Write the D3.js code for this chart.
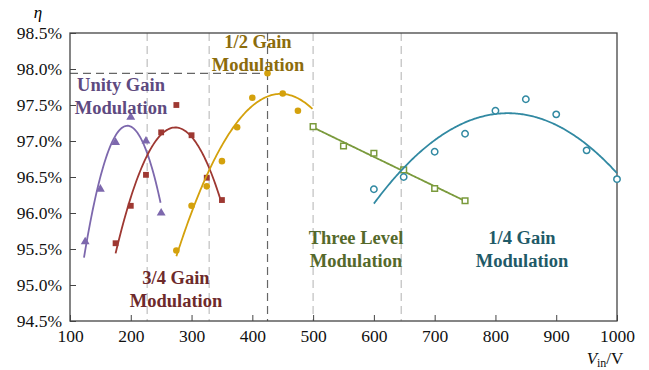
<!DOCTYPE html>
<html>
<head>
<meta charset="utf-8">
<script src="https://cdn.jsdelivr.net/npm/d3@7"></script>
<style>
  body { margin: 0; background: #fff; }
  text { font-family: "Liberation Serif", "Times New Roman", serif; }
</style>
</head>
<body>
<script>
var w = 649;
var h = 370;
var margin = {top: 33, right: 32, bottom: 49, left: 70};

// efficiency data (input voltage, efficiency %)
var unityV = [125, 150, 175, 200, 225, 250];
var unityEta = [95.6, 96.33, 96.98, 97.33, 97.0, 96.0];
var q34V = [175, 200, 225, 250, 275, 300, 325, 350];
var q34Eta = [95.58, 96.1, 96.53, 97.12, 97.5, 97.08, 96.49, 96.18];
var halfV = [275, 300, 325, 350, 375, 400, 425, 450, 475];
var halfEta = [95.48, 96.1, 96.37, 96.72, 97.19, 97.6, 97.94, 97.66, 97.42];
var threeV = [500, 550, 600, 649, 700, 750];
var threeEta = [97.2, 96.93, 96.83, 96.6, 96.34, 96.17];
var quarterV = [600, 649, 700, 750, 800, 850, 900, 950, 1000];
var quarterEta = [96.33, 96.5, 96.85, 97.1, 97.42, 97.58, 97.37, 96.87, 96.47];

var xTicks = [100, 200, 300, 400, 500, 600, 700, 800, 900, 1000];
var yTicks = [94.5, 95.0, 95.5, 96.0, 96.5, 97.0, 97.5, 98.0, 98.5];
var boundaries = [227, 329, 500, 645];
var peakV = 425;
var peakEta = 97.94;

var series = [
    {v: unityV, eta: unityEta, color: "#7d68ad", shape: d3.symbolTriangle, fill: true, deg: 2, from: 123, to: 250,
     label: ["Unity Gain", "Modulation"], lx: 121, ly: 91, lc: "#5e4a80"},
    {v: q34V, eta: q34Eta, color: "#9e3832", shape: d3.symbolSquare, fill: true, deg: 2, from: 175, to: 350,
     label: ["3/4 Gain", "Modulation"], lx: 176, ly: 284, lc: "#6e2a2b"},
    {v: halfV, eta: halfEta, color: "#d4a10c", shape: d3.symbolCircle, fill: true, deg: 2, from: 275, to: 500,
     label: ["1/2 Gain", "Modulation"], lx: 258, ly: 48, lc: "#8c6c0c"},
    {v: threeV, eta: threeEta, color: "#7a9a3c", shape: d3.symbolSquare, fill: false, deg: 1, from: 500, to: 750,
     label: ["Three Level", "Modulation"], lx: 356, ly: 244, lc: "#55692b"},
    {v: quarterV, eta: quarterEta, color: "#3189a2", shape: d3.symbolCircle, fill: false, deg: 2, from: 600, to: 1000,
     label: ["1/4 Gain", "Modulation"], lx: 522, ly: 244, lc: "#1f5a68"}
];

// least squares polynomial fit
function polyFit(xs, ys, deg) {
    var n = deg + 1;
    var A = [], b = [];
    for (var i = 0; i < n; i++) {
        A.push(new Array(n).fill(0));
        b.push(0);
    }
    xs.forEach((x, k) => {
        var t = (x - 500) / 100;
        for (var i = 0; i < n; i++) {
            for (var j = 0; j < n; j++) A[i][j] += Math.pow(t, i + j);
            b[i] += ys[k] * Math.pow(t, i);
        }
    });
    for (var i = 0; i < n; i++) {
        for (var r = i + 1; r < n; r++) {
            var f = A[r][i] / A[i][i];
            for (var c = i; c < n; c++) A[r][c] -= f * A[i][c];
            b[r] -= f * b[i];
        }
    }
    var coef = new Array(n).fill(0);
    for (var i = n - 1; i >= 0; i--) {
        var s = b[i];
        for (var c = i + 1; c < n; c++) s -= A[i][c] * coef[c];
        coef[i] = s / A[i][i];
    }
    return x => coef.reduce((acc, c, i) => acc + c * Math.pow((x - 500) / 100, i), 0);
}

var xScale = d3.scaleLinear().domain([100, 1000]).range([margin.left, w - margin.right]);
var yScale = d3.scaleLinear().domain([94.5, 98.5]).range([h - margin.bottom, margin.top]);

var svg = d3.select("body").append("svg")
    .attr("width", w)
    .attr("height", h);

// boundary lines
svg.selectAll("line.bound")
    .data(boundaries)
    .enter()
    .append("line")
    .attr("x1", d => xScale(d))
    .attr("x2", d => xScale(d))
    .attr("y1", yScale(98.5))
    .attr("y2", yScale(94.5))
    .attr("stroke", "#c4c4c4")
    .attr("stroke-width", 1.3)
    .attr("stroke-dasharray", "8,5");

svg.append("line")
    .attr("x1", xScale(peakV)).attr("x2", xScale(peakV))
    .attr("y1", yScale(98.5)).attr("y2", yScale(94.5))
    .attr("stroke", "#666")
    .attr("stroke-width", 1.2)
    .attr("stroke-dasharray", "8,5");

svg.append("line")
    .attr("x1", xScale(100)).attr("x2", xScale(peakV))
    .attr("y1", yScale(peakEta)).attr("y2", yScale(peakEta))
    .attr("stroke", "#666")
    .attr("stroke-width", 1.2)
    .attr("stroke-dasharray", "8,5");

// axes, ticks inward
var xAxis = d3.axisBottom(xScale).tickValues(xTicks).tickSizeInner(-6).tickSizeOuter(0)
    .tickPadding(9).tickFormat(d3.format("d"));
var yAxis = d3.axisLeft(yScale).tickValues(yTicks).tickSizeInner(-6).tickSizeOuter(0)
    .tickPadding(8).tickFormat(d => d.toFixed(1) + "%");

var gx = svg.append("g").attr("transform", "translate(0," + (h - margin.bottom) + ")").call(xAxis);
var gy = svg.append("g").attr("transform", "translate(" + margin.left + ",0)").call(yAxis);
[gx, gy].forEach(g => {
    g.select(".domain").remove();
    g.selectAll("line").attr("stroke", "#444");
    g.selectAll("text").attr("font-size", 17.5).attr("fill", "#111")
        .style("font-family", "'Liberation Serif', serif");
});

svg.append("rect")
    .attr("x", xScale(100)).attr("y", yScale(98.5))
    .attr("width", xScale(1000) - xScale(100))
    .attr("height", yScale(94.5) - yScale(98.5))
    .attr("fill", "none")
    .attr("stroke", "#444")
    .attr("stroke-width", 1.3);

// fitted curves and markers
var line = d3.line().x(d => xScale(d[0])).y(d => yScale(d[1]));

series.forEach(s => {
    var fit = polyFit(s.v, s.eta, s.deg);
    var pts = d3.range(s.from, s.to + 0.1, 2).map(x => [x, fit(x)]);
    svg.append("path")
        .attr("d", line(pts))
        .attr("fill", "none")
        .attr("stroke", s.color)
        .attr("stroke-width", 1.8);

    svg.selectAll(null)
        .data(s.v.map((v, i) => [v, s.eta[i]]))
        .enter()
        .append("path")
        .attr("transform", d => "translate(" + xScale(d[0]) + "," + yScale(d[1]) + ")")
        .attr("d", d3.symbol().type(s.shape).size(s.fill ? 34 : 32))
        .attr("fill", s.fill ? s.color : "#fff")
        .attr("stroke", s.color)
        .attr("stroke-width", s.fill ? 0 : 1.5);

    var t = svg.append("text")
        .attr("x", s.lx)
        .attr("y", s.ly)
        .attr("text-anchor", "middle")
        .attr("font-size", 18.5)
        .attr("font-weight", "bold")
        .attr("fill", s.lc);
    t.append("tspan").attr("x", s.lx).text(s.label[0]);
    t.append("tspan").attr("x", s.lx).attr("dy", 23).text(s.label[1]);
});

// axis titles
svg.append("text")
    .attr("x", 38).attr("y", 18)
    .attr("text-anchor", "middle")
    .attr("font-size", 17)
    .attr("font-style", "italic")
    .text("η");

var vt = svg.append("text")
    .attr("x", 605).attr("y", 364)
    .attr("text-anchor", "middle")
    .attr("font-size", 17)
    .attr("fill", "#111");
vt.append("tspan").attr("font-style", "italic").text("V");
vt.append("tspan").attr("font-size", 12).attr("dy", 3).text("in");
vt.append("tspan").attr("dy", -3).text("/V");
</script>
</body>
</html>
